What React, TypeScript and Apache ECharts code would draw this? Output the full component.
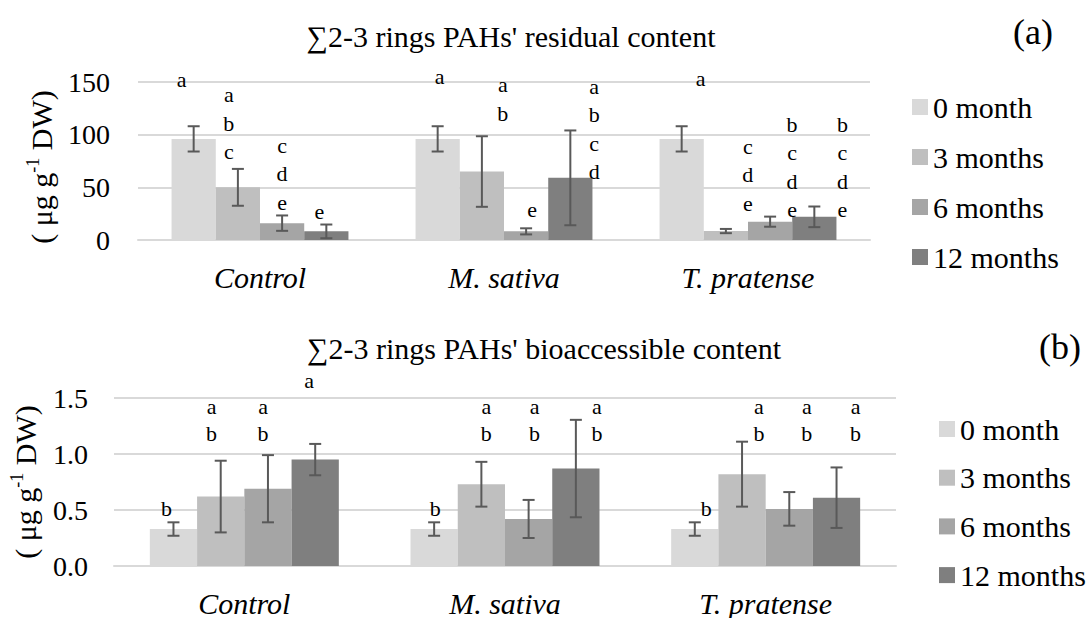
import React, { useEffect, useRef } from "react";
import * as echarts from "echarts";

const categories = ["Control", "M. sativa", "T. pratense"];
const seriesNames = ["0 month", "3 months", "6 months", "12 months"];
const colors = ["#d9d9d9", "#bfbfbf", "#a5a5a5", "#7f7f7f"];

// (a) residual content, per month across categories
const res0 = [96, 96, 96];
const res3 = [50, 65, 8.5];
const res6 = [16, 8.2, 17.4];
const res12 = [8.2, 59, 22];
const res0Err = [12, 12, 12];
const res3Err = [17.5, 33.5, 2];
const res6Err = [7.3, 2.9, 4.8];
const res12Err = [6.5, 45, 9.8];
const resLetters = [
  ["a", "a", "a"],
  ["a\nb\nc", "a\nb", "c\nd\ne"],
  ["c\nd\ne", "e", "b\nc\nd\ne"],
  ["e", "a\nb\nc\nd", "b\nc\nd\ne"],
];

// (b) bioaccessible content
const bio0 = [0.33, 0.33, 0.33];
const bio3 = [0.62, 0.73, 0.82];
const bio6 = [0.69, 0.42, 0.51];
const bio12 = [0.95, 0.87, 0.61];
const bio0Err = [0.06, 0.06, 0.06];
const bio3Err = [0.32, 0.2, 0.29];
const bio6Err = [0.3, 0.17, 0.15];
const bio12Err = [0.14, 0.435, 0.27];
const bioLetters = [
  ["b", "b", "b"],
  ["a\nb", "a\nb", "a\nb"],
  ["a\nb", "a\nb", "a\nb"],
  ["a", "a\nb", "a\nb"],
];

// annotation placement (value of the lowest letter line, and shift in category widths)
const resLetterAt = [
  [152, 155, 153.4],
  [83.8, 120.2, 34.8],
  [36, 28.5, 28.5],
  [26.6, 64.8, 28.5],
];
const resLetterDx = [
  [-0.049, 0.008, 0.078],
  [-0.037, 0.086, 0.09],
  [0, 0.025, 0.09],
  [-0.029, 0.098, 0.115],
];
const bioLetterAt = [
  [0.509, 0.509, 0.509],
  [1.186, 1.186, 1.186],
  [1.186, 1.186, 1.186],
  [1.657, 1.186, 1.186],
];
const bioLetterDx = [
  [-0.027, 0.004, 0.044],
  [-0.035, 0.019, 0.065],
  [-0.019, 0.023, 0.067],
  [-0.023, 0.081, 0.073],
];

const FONT = "Times New Roman, Liberation Serif, DejaVu Serif, serif";
const GAP = 0.275;

function buildPanel(
  g: number,
  values: number[][],
  errs: number[][],
  letters: string[][],
  letterAt: number[][],
  letterDx: number[][],
  lineH: number
) {
  const series: any[] = [];
  values.forEach((vals, j) => {
    series.push({
      type: "bar",
      name: seriesNames[j],
      xAxisIndex: g,
      yAxisIndex: g,
      data: vals,
      barGap: "0%",
      barCategoryGap: GAP * 100 + "%",
      itemStyle: { color: colors[j] },
      emphasis: { disabled: true },
    });
  });
  const errData: number[][] = [];
  const letData: number[][] = [];
  values.forEach((vals, j) => {
    vals.forEach((v, c) => {
      errData.push([c, v, errs[j][c], j]);
      letData.push([c, letterAt[j][c], j]);
    });
  });
  series.push({
    type: "custom",
    xAxisIndex: g,
    yAxisIndex: g,
    z: 5,
    data: errData,
    renderItem: (params: any, api: any) => {
      const c = api.value(0);
      const v = api.value(1);
      const e = api.value(2);
      const j = api.value(3);
      const catW = api.size([1, 0])[0];
      const barW = (catW * (1 - GAP)) / 4;
      const x = api.coord([c, v])[0] + (j - 1.5) * barW;
      const yHi = api.coord([c, v + e])[1];
      const yLo = api.coord([c, v - e])[1];
      const st = { stroke: "#595959", lineWidth: 2 };
      return {
        type: "group",
        children: [
          { type: "line", shape: { x1: x, y1: yHi, x2: x, y2: yLo }, style: st },
          { type: "line", shape: { x1: x - 6, y1: yHi, x2: x + 6, y2: yHi }, style: st },
          { type: "line", shape: { x1: x - 6, y1: yLo, x2: x + 6, y2: yLo }, style: st },
        ],
      };
    },
  });
  series.push({
    type: "custom",
    xAxisIndex: g,
    yAxisIndex: g,
    z: 6,
    data: letData,
    renderItem: (params: any, api: any) => {
      const c = api.value(0);
      const at = api.value(1);
      const j = api.value(2);
      const catW = api.size([1, 0])[0];
      const barW = (catW * (1 - GAP)) / 4;
      const p = api.coord([c, at]);
      const x = p[0] + (j - 1.5) * barW + letterDx[j][c] * catW;
      const lines = letters[j][c].split("\n");
      const n = lines.length;
      return {
        type: "group",
        children: lines.map((t, k) => ({
          type: "text",
          x: x,
          y: p[1] - (n - 1 - k) * lineH,
          style: {
            text: t,
            align: "center",
            verticalAlign: "middle",
            fontFamily: FONT,
            fontSize: 22,
            fill: "#000",
          },
        })),
      };
    },
  });
  return series;
}

export default function App() {
  const ref = useRef<HTMLDivElement>(null);
  useEffect(() => {
    if (!ref.current) return;
    const chart = echarts.init(ref.current, undefined, { renderer: "svg" });
    const axisName = (pad: number[]) => ({
      padding: pad,
      rich: {
        t: { fontFamily: FONT, fontSize: 30, color: "#000", lineHeight: 34 },
        s: { fontFamily: FONT, fontSize: 18, color: "#000", lineHeight: 18, verticalAlign: "top" },
      },
    });
    const catAxis = (g: number) => ({
      type: "category",
      gridIndex: g,
      data: categories,
      axisTick: { show: false },
      axisLine: { lineStyle: { color: "#d9d9d9", width: 2 } },
      axisLabel: {
        fontFamily: FONT,
        fontStyle: "italic",
        fontSize: 30,
        color: "#000",
        margin: 22,
      },
    });
    const legend = (left: number, top: number, gap: number) => ({
      data: seriesNames,
      orient: "vertical",
      left,
      top,
      icon: "rect",
      itemWidth: 16,
      itemHeight: 16,
      itemGap: gap,
      selectedMode: false,
      textStyle: { fontFamily: FONT, fontSize: 30, color: "#000", lineHeight: 30 },
    });
    const option: any = {
      animation: false,
      backgroundColor: "#fff",
      textStyle: { fontFamily: FONT },
      grid: [
        { left: 138, right: 221, top: 82, height: 158 },
        { left: 113, right: 195, top: 398, height: 170 },
      ],
      legend: [legend(907, 87, 20), legend(934, 409, 18.7)],
      xAxis: [catAxis(0), catAxis(1)],
      yAxis: [
        {
          type: "value",
          gridIndex: 0,
          min: 0,
          max: 150,
          interval: 50,
          axisLine: { show: false },
          axisTick: { show: false },
          splitLine: { lineStyle: { color: "#d9d9d9", width: 2 } },
          axisLabel: { fontFamily: FONT, fontSize: 28, color: "#000", margin: 28 },
          name: "{t|( μg g}{s|-1}{t| DW)}",
          nameLocation: "middle",
          nameGap: 80,
          nameTextStyle: axisName([0, 12, 0, 0]),
        },
        {
          type: "value",
          gridIndex: 1,
          min: 0,
          max: 1.5,
          interval: 0.5,
          axisLine: { show: false },
          axisTick: { show: false },
          splitLine: { lineStyle: { color: "#d9d9d9", width: 2 } },
          axisLabel: {
            fontFamily: FONT,
            fontSize: 28,
            color: "#000",
            margin: 26,
            formatter: (v: number) => v.toFixed(1),
          },
          name: "{t|( μg g}{s|-1}{t| DW)}",
          nameLocation: "middle",
          nameGap: 72,
          nameTextStyle: axisName([0, 0, 0, 0]),
        },
      ],
      graphic: [
        {
          type: "text",
          x: 511,
          y: 36,
          style: {
            text: "∑2-3 rings PAHs' residual content",
            align: "center",
            verticalAlign: "middle",
            fontFamily: FONT,
            fontSize: 30,
            fill: "#000",
          },
        },
        {
          type: "text",
          x: 544,
          y: 348,
          style: {
            text: "∑2-3 rings PAHs' bioaccessible content",
            align: "center",
            verticalAlign: "middle",
            fontFamily: FONT,
            fontSize: 30,
            fill: "#000",
          },
        },
        {
          type: "text",
          x: 1033,
          y: 32,
          style: { text: "(a)", align: "center", verticalAlign: "middle", fontFamily: FONT, fontSize: 36, fill: "#000" },
        },
        {
          type: "text",
          x: 1060,
          y: 347,
          style: { text: "(b)", align: "center", verticalAlign: "middle", fontFamily: FONT, fontSize: 36, fill: "#000" },
        },
      ],
      series: [
        ...buildPanel(
          0,
          [res0, res3, res6, res12],
          [res0Err, res3Err, res6Err, res12Err],
          resLetters,
          resLetterAt,
          resLetterDx,
          28.5
        ),
        ...buildPanel(
          1,
          [bio0, bio3, bio6, bio12],
          [bio0Err, bio3Err, bio6Err, bio12Err],
          bioLetters,
          bioLetterAt,
          bioLetterDx,
          27
        ),
      ],
    };
    chart.setOption(option);
    return () => chart.dispose();
  }, []);
  return (
    <div
      ref={ref}
      style={{ position: "absolute", left: 0, top: 0, width: 1091, height: 618, background: "#fff" }}
    />
  );
}
